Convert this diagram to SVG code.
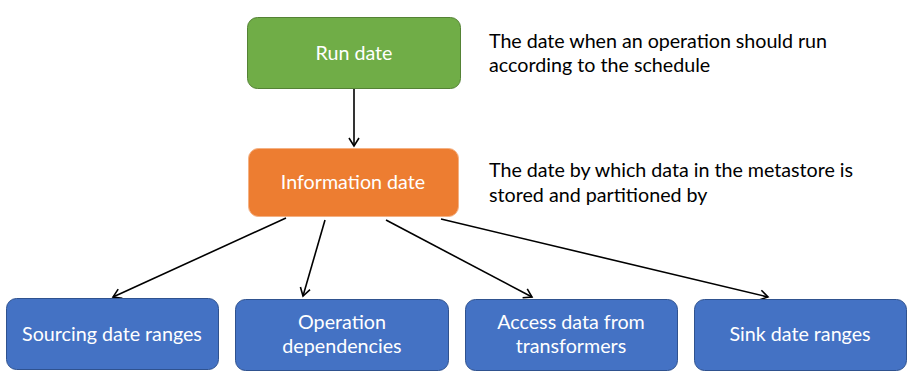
<svg xmlns="http://www.w3.org/2000/svg" width="915" height="381" viewBox="0 0 915 381">
<style>
.lbl{font-family:Lato,"Open Sans","Liberation Sans",sans-serif;font-size:19.7px;fill:#fff;text-anchor:middle}
.note{font-family:Lato,"Open Sans","Liberation Sans",sans-serif;font-size:19.7px;fill:#000}
.green{fill:#70AD47;stroke:#548235;stroke-width:1}
.orange{fill:#ED7D31;stroke:#F4B183;stroke-width:1}
.blue{fill:#4472C4;stroke:#2F528F;stroke-width:1}
.conn{stroke:#000;stroke-width:1.6;fill:none;marker-end:url(#arr)}
</style>
<defs>
<marker id="arr" markerUnits="userSpaceOnUse" markerWidth="14" markerHeight="14" viewBox="-10 -7 12 14" refX="0" refY="0" orient="auto">
<path d="M-8,-5 L0,0 L-8,5" fill="none" stroke="#000" stroke-width="1.6"/>
</marker>
</defs>
<rect width="915" height="381" fill="#fff"/>
<g id="connectors">
<line class="conn" x1="354" y1="89" x2="354" y2="146"/>
<line class="conn" x1="286" y1="218" x2="113" y2="297"/>
<line class="conn" x1="325" y1="220" x2="303" y2="296"/>
<line class="conn" x1="386" y1="220" x2="532" y2="297"/>
<line class="conn" x1="441" y1="219" x2="768" y2="297"/>
</g>
<g id="run-date">
<rect class="green" x="247.5" y="17.5" width="213" height="71" rx="10"/>
<text class="lbl" x="354" y="60">Run date</text>
</g>
<g id="information-date">
<rect class="orange" x="248.5" y="148.5" width="210" height="68" rx="10"/>
<text class="lbl" x="353" y="189">Information date</text>
</g>
<g id="sourcing">
<rect class="blue" x="6.5" y="298.5" width="212" height="71" rx="10"/>
<text class="lbl" x="112" y="341">Sourcing date ranges</text>
</g>
<g id="operation-dependencies">
<rect class="blue" x="235.5" y="299.5" width="213" height="71" rx="10"/>
<text class="lbl" x="342" y="329">Operation</text>
<text class="lbl" x="342" y="353">dependencies</text>
</g>
<g id="access-data">
<rect class="blue" x="465.5" y="299.5" width="212" height="71" rx="10"/>
<text class="lbl" x="571" y="329">Access data from</text>
<text class="lbl" x="571" y="353">transformers</text>
</g>
<g id="sink">
<rect class="blue" x="694.5" y="299.5" width="212" height="71" rx="10"/>
<text class="lbl" x="800" y="341">Sink date ranges</text>
</g>
<g id="notes">
<text class="note" x="489" y="48" textLength="338" lengthAdjust="spacing">The date when an operation should run</text>
<text class="note" x="489" y="72">according to the schedule</text>
<text class="note" x="489" y="177" textLength="364" lengthAdjust="spacing">The date by which data in the metastore is</text>
<text class="note" x="489" y="202">stored and partitioned by</text>
</g>
</svg>
